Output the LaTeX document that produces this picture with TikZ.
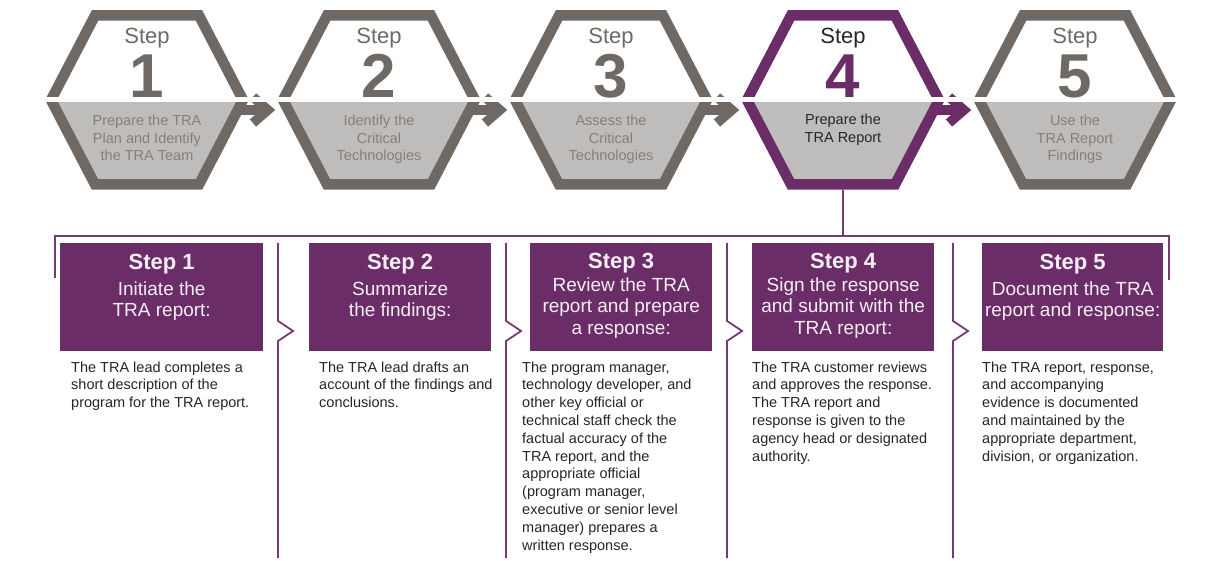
\documentclass[tikz,border=0pt]{standalone}
\usepackage{fontspec}
\setmainfont{Liberation Sans}
\usetikzlibrary{calc}
\definecolor{purp}{RGB}{107,45,103}
\definecolor{hexgray}{RGB}{110,105,101}
\definecolor{hexfill}{RGB}{191,189,187}
\definecolor{hextxt}{RGB}{133,127,123}
\definecolor{linepurp}{RGB}{118,60,113}
\definecolor{bodytxt}{RGB}{38,38,38}
\definecolor{boxtxt}{RGB}{245,238,244}
\begin{document}
\begin{tikzpicture}[x=1pt,y=-1pt,
  hexline/.style={line width=10.5pt, line join=miter, miter limit=10},
  arrline/.style={line width=9.5pt, line join=miter, miter limit=10},
  steplbl/.style={anchor=base, inner sep=0pt, font=\fontsize{22}{22}\selectfont},
  numlbl/.style={anchor=base, inner sep=0pt, font=\fontsize{62}{62}\selectfont\bfseries},
  hextext/.style={anchor=base, inner sep=0pt, text=hextxt, font=\fontsize{14.5}{17.3}\selectfont},
  bracket/.style={draw=linepurp, line width=2.2pt},
  sepline/.style={draw=linepurp, line width=1.8pt, line join=miter},
  pbox/.style={fill=purp, draw=none, inner sep=0pt, anchor=north west, minimum height=108pt},
  hdr/.style={anchor=base, inner sep=0pt, text=boxtxt},
  body/.style={anchor=base west, inner sep=0pt, text=bodytxt, font=\fontsize{14.5}{17.8}\selectfont}
]
\useasboundingbox (0,0) rectangle (1207,561);
\fill[white] (0,0) rectangle (1207,561);

% hexagon centres
\coordinate (h1) at (147,100);
\coordinate (h2) at (379,100);
\coordinate (h3) at (611,100);
\coordinate (h4) at (843,100);
\coordinate (h5) at (1075,100);

% hexagons
\foreach \n/\col in {1/hexgray,2/hexgray,3/hexgray,4/purp,5/hexgray}{
  \fill[hexfill] ($(h\n)+(-96,0)$) -- ($(h\n)+(96,0)$) -- ($(h\n)+(52,84.5)$) -- ($(h\n)+(-52,84.5)$) -- cycle;
  \draw[hexline, draw=\col] ($(h\n)+(-96,0)$) -- ($(h\n)+(-52,-84.5)$) -- ($(h\n)+(52,-84.5)$) -- ($(h\n)+(96,0)$) -- ($(h\n)+(52,84.5)$) -- ($(h\n)+(-52,84.5)$) -- cycle;
}

% arrows between hexagons
\foreach \a/\col in {1/hexgray,2/hexgray,3/hexgray,4/purp}{
  \draw[arrline, draw=\col] ($(h\a)+(88,10)$) -- ($(h\a)+(119,10)$);
  \draw[arrline, draw=\col] ($(h\a)+(106,-3)$) -- ($(h\a)+(121,10)$) -- ($(h\a)+(106,23)$);
}

% white gap across the middle
\draw[white, line width=5pt] (30,100) -- (1195,100);

% hexagon texts
\node[steplbl, text=hexgray] (s1) at (147,44) {Step};
\node[numlbl, text=hexgray] (n1) at (147,98) {1};
\node[hextext] (t1) at (147,126) {\parbox[t]{180pt}{\centering Prepare the TRA\\Plan and Identify\\the TRA Team}};

\node[steplbl, text=hexgray] (s2) at (379,44) {Step};
\node[numlbl, text=hexgray] (n2) at (379,98) {2};
\node[hextext] (t2) at (379,126) {\parbox[t]{180pt}{\centering Identify the\\Critical\\Technologies}};

\node[steplbl, text=hexgray] (s3) at (611,44) {Step};
\node[numlbl, text=hexgray] (n3) at (611,98) {3};
\node[hextext] (t3) at (611,126) {\parbox[t]{180pt}{\centering Assess the\\Critical\\Technologies}};

\node[steplbl, text=black!85] (s4) at (843,44) {Step};
\node[numlbl, text=purp] (n4) at (843,98) {4};
\node[hextext, text=black!85] (t4) at (843,125) {\parbox[t]{180pt}{\centering Prepare the\\TRA Report}};

\node[steplbl, text=hexgray] (s5) at (1075,44) {Step};
\node[numlbl, text=hexgray] (n5) at (1075,98) {5};
\node[hextext] (t5) at (1075,126) {\parbox[t]{180pt}{\centering Use the\\TRA Report\\Findings}};

% bracket from step 4
\coordinate (bl) at (55,236);
\coordinate (br) at (1169,236);
\coordinate (bm) at (843,236);
\draw[bracket] ($(h4)+(0,90)$) -- (bm);
\draw[bracket] (55,278) -- (bl) -- (br) -- (1169,280);

% separators with chevrons
\foreach \sx in {278,506,727,953}{
  \draw[sepline] (\sx,243) -- (\sx,321) -- ({\sx+15},331) -- (\sx,341) -- (\sx,558);
}

% purple boxes
\node[pbox, minimum width=203pt] (b1) at (60,243) {};
\node[pbox, minimum width=182pt] (b2) at (309,243) {};
\node[pbox, minimum width=182pt] (b3) at (530,243) {};
\node[pbox, minimum width=182pt] (b4) at (752,243) {};
\node[pbox, minimum width=181pt] (b5) at (982,243) {};

% box headers
\node[hdr] (hd1) at (b1.north |- 0,270) {\parbox[t]{200pt}{\centering\fontsize{22}{22}\selectfont\bfseries Step 1\\[3pt]\mdseries\fontsize{19}{22}\selectfont Initiate the\\TRA report:}};
\node[hdr] (hd2) at (b2.north |- 0,270) {\parbox[t]{182pt}{\centering\fontsize{22}{22}\selectfont\bfseries Step 2\\[3pt]\mdseries\fontsize{19}{22}\selectfont Summarize\\the findings:}};
\node[hdr] (hd3) at (b3.north |- 0,269) {\parbox[t]{182pt}{\centering\fontsize{22}{22}\selectfont\bfseries Step 3\\[1pt]\mdseries\fontsize{19}{21.5}\selectfont Review the TRA\\report and prepare\\a response:}};
\node[hdr] (hd4) at (b4.north |- 0,269) {\parbox[t]{182pt}{\centering\fontsize{22}{22}\selectfont\bfseries Step 4\\[1pt]\mdseries\fontsize{19}{21.5}\selectfont Sign the response\\and submit with the\\TRA report:}};
\node[hdr] (hd5) at (b5.north |- 0,270) {\parbox[t]{181pt}{\centering\fontsize{22}{22}\selectfont\bfseries Step 5\\[3pt]\mdseries\fontsize{19}{22}\selectfont Document the TRA\\report and response:}};

% body texts
\node[body] (d1) at (71,372) {\parbox[t]{200pt}{\raggedright The TRA lead completes a\\short description of the\\program for the TRA report.}};
\node[body] (d2) at (319,372) {\parbox[t]{200pt}{\raggedright The TRA lead drafts an\\account of the findings and\\conclusions.}};
\node[body] (d3) at (522,372) {\parbox[t]{200pt}{\raggedright The program manager,\\technology developer, and\\other key official or\\technical staff check the\\factual accuracy of the\\TRA report, and the\\appropriate official\\(program manager,\\executive or senior level\\manager) prepares a\\written response.}};
\node[body] (d4) at (752,372) {\parbox[t]{200pt}{\raggedright The TRA customer reviews\\and approves the response.\\The TRA report and\\response is given to the\\agency head or designated\\authority.}};
\node[body] (d5) at (982,372) {\parbox[t]{200pt}{\raggedright The TRA report, response,\\and accompanying\\evidence is documented\\and maintained by the\\appropriate department,\\division, or organization.}};
\end{tikzpicture}
\end{document}
